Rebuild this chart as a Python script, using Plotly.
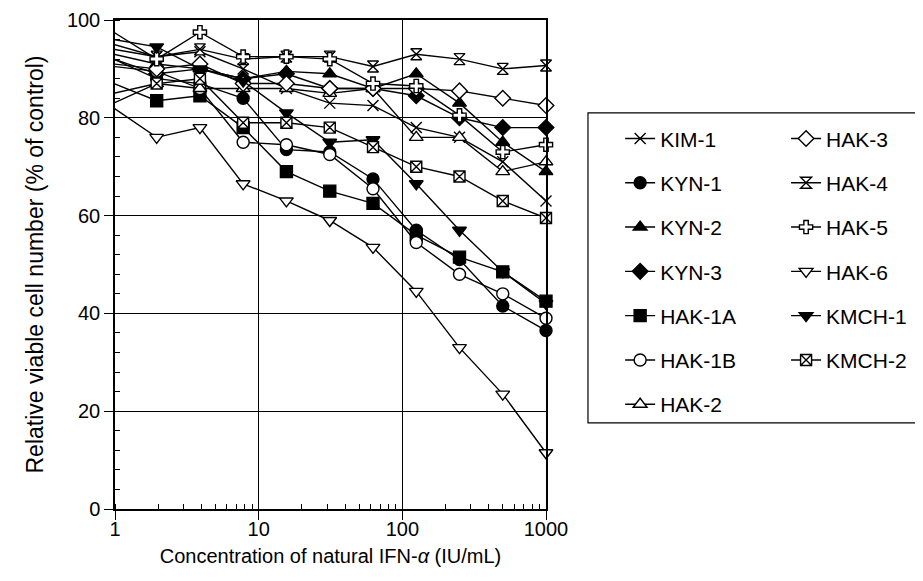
import plotly.graph_objects as go

# Concentration of natural IFN-alpha (IU/mL), two-fold dilutions
conc = [0.98, 1.95, 3.9, 7.8, 15.6, 31.25, 62.5, 125, 250, 500, 1000]

# Relative viable cell number (% of control)
kim1   = [94, 92.5, 93.5, 90, 86, 83, 82.5, 78, 76, 71, 63]
kyn1   = [92, 88, 87, 84, 73.5, 73, 67.5, 57, 51, 41.5, 36.5]
kyn2   = [93, 91, 90, 88, 89.5, 89, 86, 89, 83, 75, 69]
kyn3   = [92, 89, 90, 88, 89, 86, 86, 84.5, 80, 78, 78]
hak1a  = [87, 83.5, 84.5, 78, 69, 65, 62.5, 56, 51.5, 48.5, 42.5]
hak1b  = [90.5, 89.5, 86, 75, 74.5, 72.5, 65.5, 54.5, 48, 44, 39]
hak2   = [85, 87, 86, 86, 86, 85, 86, 76, 76, 69, 71]
hak3   = [91, 90, 91, 87, 87, 86, 86, 86, 85.5, 84, 82.5]
hak4   = [95, 92.5, 94, 92, 92.5, 92.5, 90.5, 93, 92, 90, 90.7]
hak5   = [97.5, 92, 97.5, 92.5, 92.5, 92, 87, 86.5, 80.5, 73, 74.5]
hak6   = [82, 76, 78, 66.5, 63, 59, 53.5, 44.5, 33, 23.5, 11.5]
kmch1  = [96, 94.5, 90, 87.5, 81, 75, 75.5, 66.5, 57, 48.5, 42]
kmch2  = [83, 87, 88, 79, 79, 78, 74, 70, 68, 63, 59.5]

left_col = [
    ("KIM-1", kim1, "x-thin-open", "black", 11),
    ("KYN-1", kyn1, "circle", "black", 12),
    ("KYN-2", kyn2, "triangle-up", "black", 12),
    ("KYN-3", kyn3, "diamond", "black", 12),
    ("HAK-1A", hak1a, "square", "black", 12),
    ("HAK-1B", hak1b, "circle", "white", 12),
    ("HAK-2", hak2, "triangle-up", "white", 12),
]
right_col = [
    ("HAK-3", hak3, "diamond", "white", 12),
    ("HAK-4", hak4, "hourglass", "white", 11),
    ("HAK-5", hak5, "cross", "white", 11),
    ("HAK-6", hak6, "triangle-down", "white", 12),
    ("KMCH-1", kmch1, "triangle-down", "black", 12),
    ("KMCH-2", kmch2, "square-x", "white", 11),
]

fig = go.Figure()
for legend_name, col in (("legend", left_col), ("legend2", right_col)):
    for name, vals, sym, fill, size in col:
        fig.add_trace(go.Scatter(
            x=conc, y=vals, name=name, mode="lines+markers",
            legend=legend_name, legendgroup=name,
            line=dict(color="black", width=1.4),
            marker=dict(symbol=sym, size=size, color=fill,
                        line=dict(color="black", width=1.4)),
            cliponaxis=False,
        ))

font_family = "Liberation Sans, Arial, sans-serif"
leg_font = dict(size=21, family=font_family, color="black")

fig.update_layout(
    width=923, height=581,
    margin=dict(l=107, r=385, t=12, b=80),
    paper_bgcolor="white", plot_bgcolor="white",
    font=dict(family=font_family, color="black", size=20),
    showlegend=True,
    legend=dict(x=1.172, y=0.799, xanchor="left", yanchor="top",
                bgcolor="rgba(0,0,0,0)", font=leg_font,
                tracegroupgap=14, itemwidth=30),
    legend2=dict(x=1.557, y=0.799, xanchor="left", yanchor="top",
                 bgcolor="rgba(0,0,0,0)", font=leg_font,
                 tracegroupgap=14, itemwidth=30),
    shapes=[dict(type="rect", xref="paper", yref="paper",
                 x0=1.0974, x1=1.870, y0=0.176, y1=0.81,
                 line=dict(color="black", width=1.2))],
)

fig.update_xaxes(
    type="log", range=[0, 3], automargin=False,
    tickvals=[1, 10, 100, 1000], ticktext=["1", "10", "100", "1000"],
    ticks="outside", ticklen=9, tickwidth=1.3, tickcolor="black",
    ticklabelstandoff=-8,
    showline=True, linecolor="black", linewidth=1.5, mirror=True,
    showgrid=True, gridcolor="black", gridwidth=1.3,
    zeroline=False,
    minor=dict(ticks="inside", ticklen=5, tickcolor="black", tickwidth=1,
               showgrid=False, dtick="D1"),
    tickfont=dict(size=20),
    title=dict(text="Concentration of natural IFN-<i>α</i> (IU/mL)",
               font=dict(size=20), standoff=10),
)
fig.update_yaxes(
    range=[0, 100], tick0=0, dtick=20, automargin=False,
    ticks="outside", ticklen=9, tickwidth=1.3, tickcolor="black",
    showline=True, linecolor="black", linewidth=1.5, mirror=True,
    showgrid=True, gridcolor="black", gridwidth=1.3,
    zeroline=False,
    minor=dict(ticks="inside", ticklen=5, tickcolor="black", tickwidth=1,
               dtick=4, showgrid=False),
    tickfont=dict(size=20),
    title=dict(text="Relative viable cell number (% of control)",
               font=dict(size=23), standoff=17),
)

fig.write_html("out.html")
